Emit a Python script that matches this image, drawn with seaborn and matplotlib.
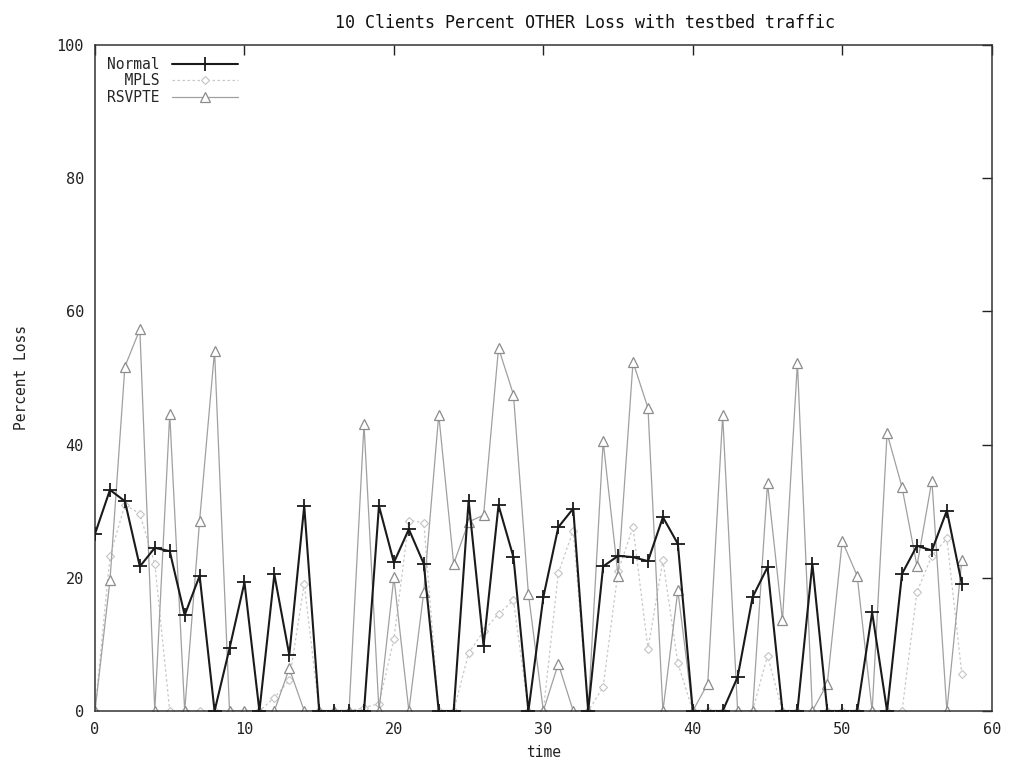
import numpy as np
import pandas as pd
import matplotlib
matplotlib.use("Agg")
import matplotlib.pyplot as plt
import seaborn as sns

time = list(range(59))
normal = [26.6, 33.2, 31.5, 21.7, 24.5, 24.0, 14.4, 20.3, 0, 9.4,
          19.3, 0, 20.5, 8.4, 30.8, 0, 0, 0, 0, 30.8,
          22.3, 27.3, 22.1, 0, 0, 31.6, 9.8, 30.9, 23.1, 0,
          17.1, 27.6, 30.4, 0, 21.7, 23.3, 23.1, 22.5, 29.1, 25.1,
          0, 0, 0, 5.1, 17.1, 21.6, 0, 0, 22.1, 0,
          0, 0, 14.8, 0, 20.6, 24.8, 24.1, 30.1, 19.1]
mpls = [0, 23.2, 31.0, 29.6, 22.1, 0, 0, 0, 0, 0,
        0, 0, 2.0, 4.6, 19.1, 0, 0, 0, 0.5, 1.1,
        10.8, 28.6, 28.3, 0, 0, 8.7, 12.0, 14.6, 16.6, 0,
        0, 20.7, 27.1, 0, 3.6, 21.0, 27.6, 9.3, 22.6, 7.2,
        0, 0, 0, 0, 0, 8.3, 0, 0, 0, 0,
        0, 0, 0, 0, 0, 17.9, 23.3, 25.9, 5.6]
rsvpte = [0, 19.6, 51.7, 57.3, 0, 44.6, 0, 28.6, 54.1, 0,
          0, 0, 0, 6.4, 0, 0, 0, 0, 43.1, 0,
          20.1, 0, 17.9, 44.5, 22.1, 28.4, 29.4, 54.5, 47.5, 17.6,
          0, 7.1, 0, 0, 40.5, 20.3, 52.4, 45.5, 0, 18.1,
          0, 4.1, 44.4, 0, 0, 34.2, 13.6, 52.3, 0, 4.1,
          25.5, 20.3, 0, 41.7, 33.6, 21.8, 34.6, 0, 22.6]

legend_labels = ["Normal", "  MPLS", "RSVPTE"]
title = "10 Clients Percent OTHER Loss with testbed traffic"

df = pd.DataFrame({"time": time, "Normal": normal, "MPLS": mpls, "RSVPTE": rsvpte})

sns.set_style("white")
plt.rcParams["font.family"] = ["DejaVu Sans Mono"]

fig = plt.figure(figsize=(10.14, 7.65), dpi=100)
ax = fig.add_axes([0.0937, 0.0706, 0.8843, 0.8706])

sns.lineplot(data=df, x="time", y="RSVPTE", ax=ax, color="#a0a0a0", linewidth=0.9,
             marker="^", markersize=6.5, markerfacecolor="white",
             markeredgecolor="#8c8c8c", markeredgewidth=0.9, label=legend_labels[2],
             zorder=2)
sns.lineplot(data=df, x="time", y="MPLS", ax=ax, color="#c8c8c8", linewidth=0.9,
             linestyle=(0, (2, 2)), marker="D", markersize=4, markerfacecolor="white",
             markeredgecolor="#c4c4c4", markeredgewidth=0.8, label=legend_labels[1],
             zorder=1)
sns.lineplot(data=df, x="time", y="Normal", ax=ax, color="#1a1a1a", linewidth=1.5,
             marker="+", markersize=9.5, markeredgewidth=1.3, markeredgecolor="#1a1a1a",
             label=legend_labels[0], zorder=3)

ax.set_xlim(0, 60)
ax.set_ylim(0, 100)
ax.set_xticks(range(0, 61, 10))
ax.set_yticks(range(0, 101, 20))
ax.tick_params(direction="in", length=7, width=1, top=True, right=True,
               labelsize=11, colors="#222222", pad=8)
for s in ax.spines.values():
    s.set_color("#333333")
    s.set_linewidth(1.1)

ax.set_title(title, fontsize=12, pad=12, color="#111111", x=0.546)
ax.set_xlabel("time", fontsize=10.5, labelpad=6, color="#222222")
ax.set_ylabel("Percent Loss", fontsize=10.5, labelpad=20, color="#222222")

handles, labels = ax.get_legend_handles_labels()
order = [labels.index(l) for l in legend_labels]
leg = ax.legend([handles[i] for i in order], [labels[i] for i in order],
                loc="upper left", frameon=False, markerfirst=False,
                fontsize=10.5, handlelength=4.5, borderaxespad=0.4,
                labelspacing=0.12, handletextpad=0.9)

fig.savefig("out.png", dpi=100, facecolor="white")
